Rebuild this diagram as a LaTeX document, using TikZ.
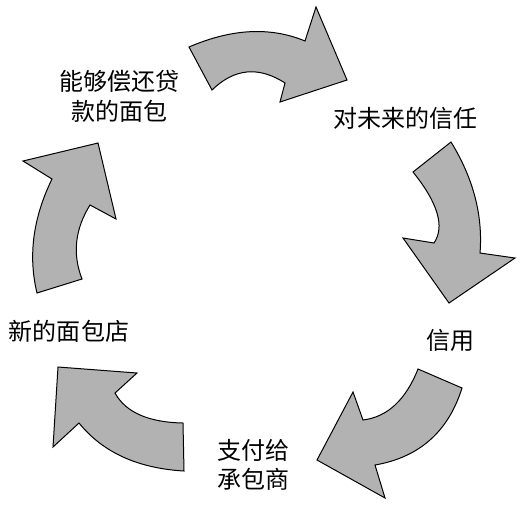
\documentclass[tikz,border=0pt]{standalone}
\usepackage{fontspec}
\newfontfamily\cjk{Noto Sans CJK SC}

\begin{document}
\begin{tikzpicture}[x=1pt, y=-1pt,
	lbl/.style={font=\cjk\fontsize{24}{29.5}\selectfont, align=center, inner sep=0pt},
	bigarrow/.style={draw=black, fill=black!30, line width=1pt}]
	\useasboundingbox (0,0) rectangle (521,507);
	
	% 1. 五个文字标签（按原图位置手动指定）
	\node[lbl] (repay) at (119.5,96.5) {能够偿还贷\\款的面包};
	\node[lbl] (trust) at (405,118) {对未来的信任};
	\node[lbl] (credit) at (450,340) {信用};
	\node[lbl] (pay) at (253,465) {支付给\\承包商};
	\node[lbl] (newshop) at (69,331) {新的面包店};
	
	% 2. 五个弯曲的大箭头（顺时针）
	% 上方：指向右
	\draw[bigarrow] (189,47) .. controls (231.7,28.6) and (270.3,26.6) .. (305,41)
		-- (316,7) -- (347,80) -- (280,102) -- (285,83)
		.. controls (258.7,66) and (234.3,68.3) .. (212,90) -- cycle;
	% 右侧：指向下
	\draw[bigarrow] (451,142) .. controls (473.3,178.3) and (483,215.3) .. (480,253)
		-- (515,258) -- (449,303) -- (403,238) -- (434,243)
		.. controls (445,226.7) and (438,203) .. (413,172) -- cycle;
	% 右下：指向左下
	\draw[bigarrow] (462,388) .. controls (448.3,431.7) and (419.3,457.3) .. (375,465)
		-- (385,498) -- (317,460) -- (353,392) -- (363,420)
		.. controls (387.3,417) and (405.7,400) .. (418,369) -- cycle;
	% 左下：指向左上
	\draw[bigarrow] (184,471) .. controls (137.7,468.3) and (102.7,452.3) .. (79,423)
		-- (53,447) -- (58,367) -- (137,373) -- (115,393)
		.. controls (125.7,412.3) and (148.3,422.3) .. (183,423) -- cycle;
	% 左侧：指向上
	\draw[bigarrow] (37,293) .. controls (28,255.9) and (33,217.9) .. (52,179)
		-- (23,161) -- (98,143) -- (116,219) -- (90,205)
		.. controls (74.9,229.3) and (72.3,253.9) .. (82,279) -- cycle;
\end{tikzpicture}
\end{document}
